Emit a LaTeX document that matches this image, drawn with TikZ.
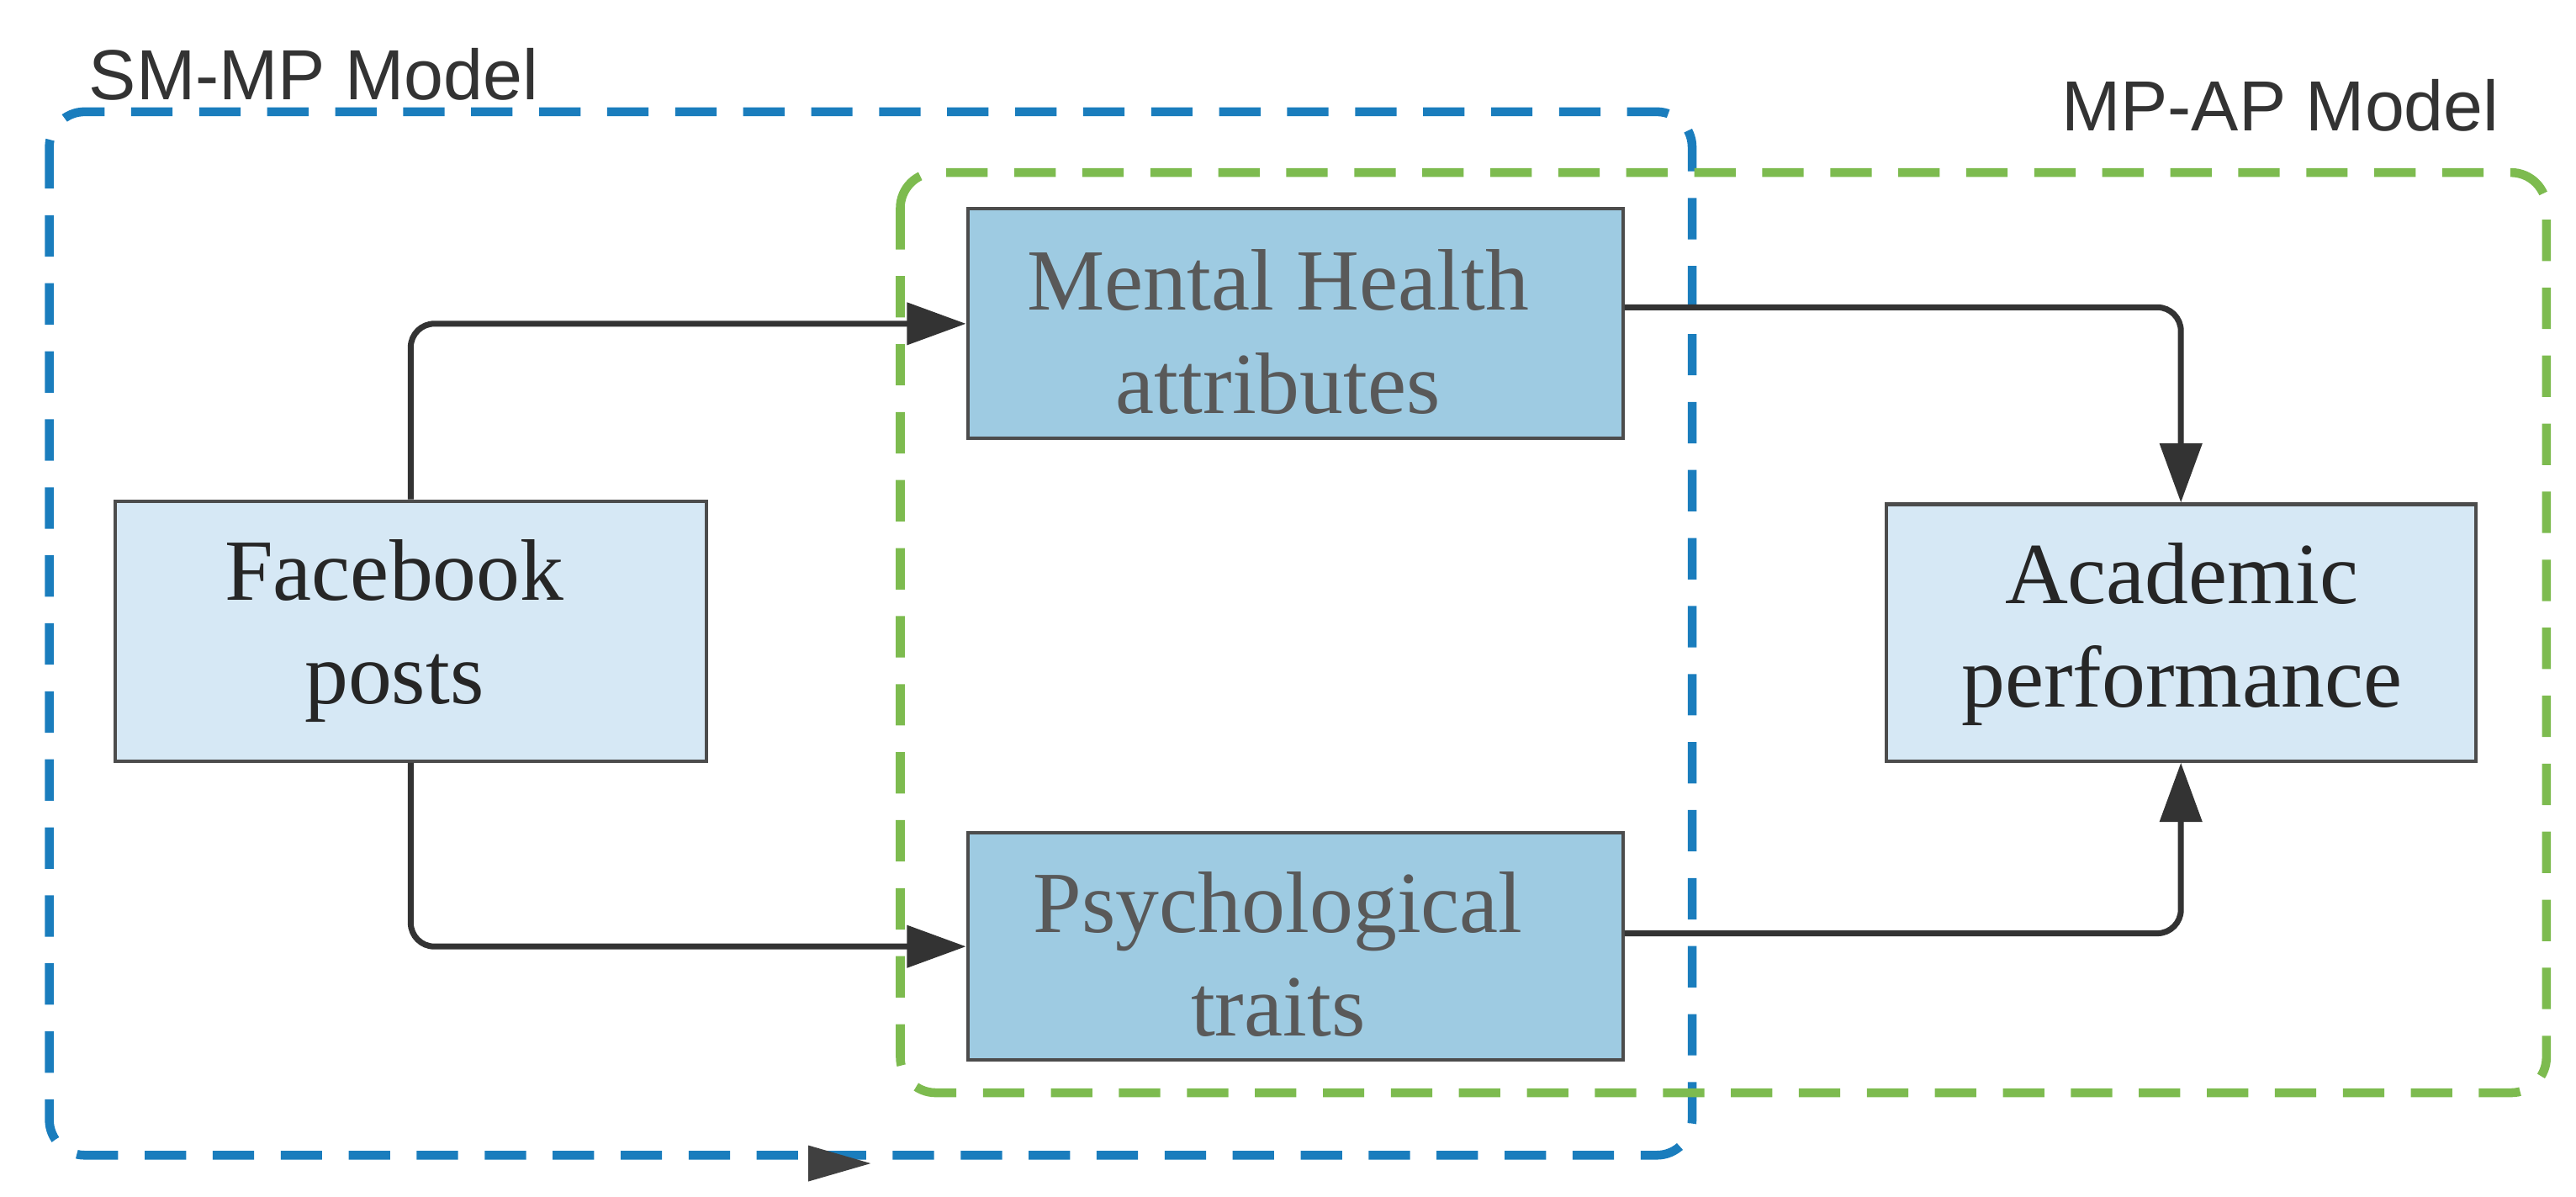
\documentclass[tikz,border=0pt]{standalone}
\usepackage{fontspec}
\setmainfont{Liberation Serif}
\newfontfamily\lsans{Liberation Sans}
\usetikzlibrary{arrows.meta,calc}
\definecolor{bluedash}{HTML}{1A7DBD}
\definecolor{greendash}{HTML}{7DBB4F}
\definecolor{lightfill}{HTML}{D6E8F5}
\definecolor{darkfill}{HTML}{9ECBE2}
\begin{document}
\begin{tikzpicture}[x=0.01953cm,y=-0.01953cm,
  box/.style={draw=black!70,line width=1.2pt,align=center,font=\fontsize{29.5}{35}\selectfont,inner sep=0pt},
  light/.style={box,fill=lightfill,text=black!85},
  dark/.style={box,fill=darkfill,text=black!65},
  conn/.style={draw=black!80,line width=2pt,rounded corners=8pt,-{Triangle[length=20pt,width=14pt]}},
  dashbox/.style={line width=3pt,dash pattern=on 14pt off 9pt,rounded corners=12pt},
  lab/.style={font=\lsans\fontsize{24}{28}\selectfont,text=black!80}]
\useasboundingbox (0,0) rectangle (1568,728);
\draw[dashbox,draw=bluedash] (30,68) rectangle (1030,703);
\draw[dashbox,draw=greendash] (548,105) rectangle (1550,665);
\node[lab] (l1) at (191,45) {SM-MP Model};
\node[lab] (l2) at (1388,64) {MP-AP Model};
\node[light,minimum width=7.03cm,minimum height=3.09cm] (fb) at (250,384) {};
\node[font=\fontsize{29.5}{35}\selectfont,align=center,text=black!85] (fbt) at (240,384) {Facebook\\posts};
\node[dark,minimum width=7.79cm,minimum height=2.73cm] (mh) at (788.5,197) {};
\node[font=\fontsize{29.5}{35}\selectfont,align=center,text=black!65] (mht) at (778,202) {Mental Health\\attributes};
\node[dark,minimum width=7.79cm,minimum height=2.70cm] (ps) at (788.5,576) {};
\node[font=\fontsize{29.5}{35}\selectfont,align=center,text=black!65] (pst) at (778,581) {Psychological\\traits};
\node[light,minimum width=7.01cm,minimum height=3.05cm] (ac) at (1327.5,385) {};
\node[font=\fontsize{29.5}{35}\selectfont,align=center,text=black!85] (act) at (1328,386) {Academic\\performance};
\draw[conn] (fb.north) |- (mh.west);
\draw[conn] (fb.south) |- (ps.west);
\draw[conn] ($(mh.east)+(0,-10)$) -| (ac.north);
\draw[conn] ($(ps.east)+(0,-8)$) -| (ac.south);
\fill[black!75] (492,697) -- (530,708) -- (492,719) -- cycle;
\end{tikzpicture}
\end{document}
